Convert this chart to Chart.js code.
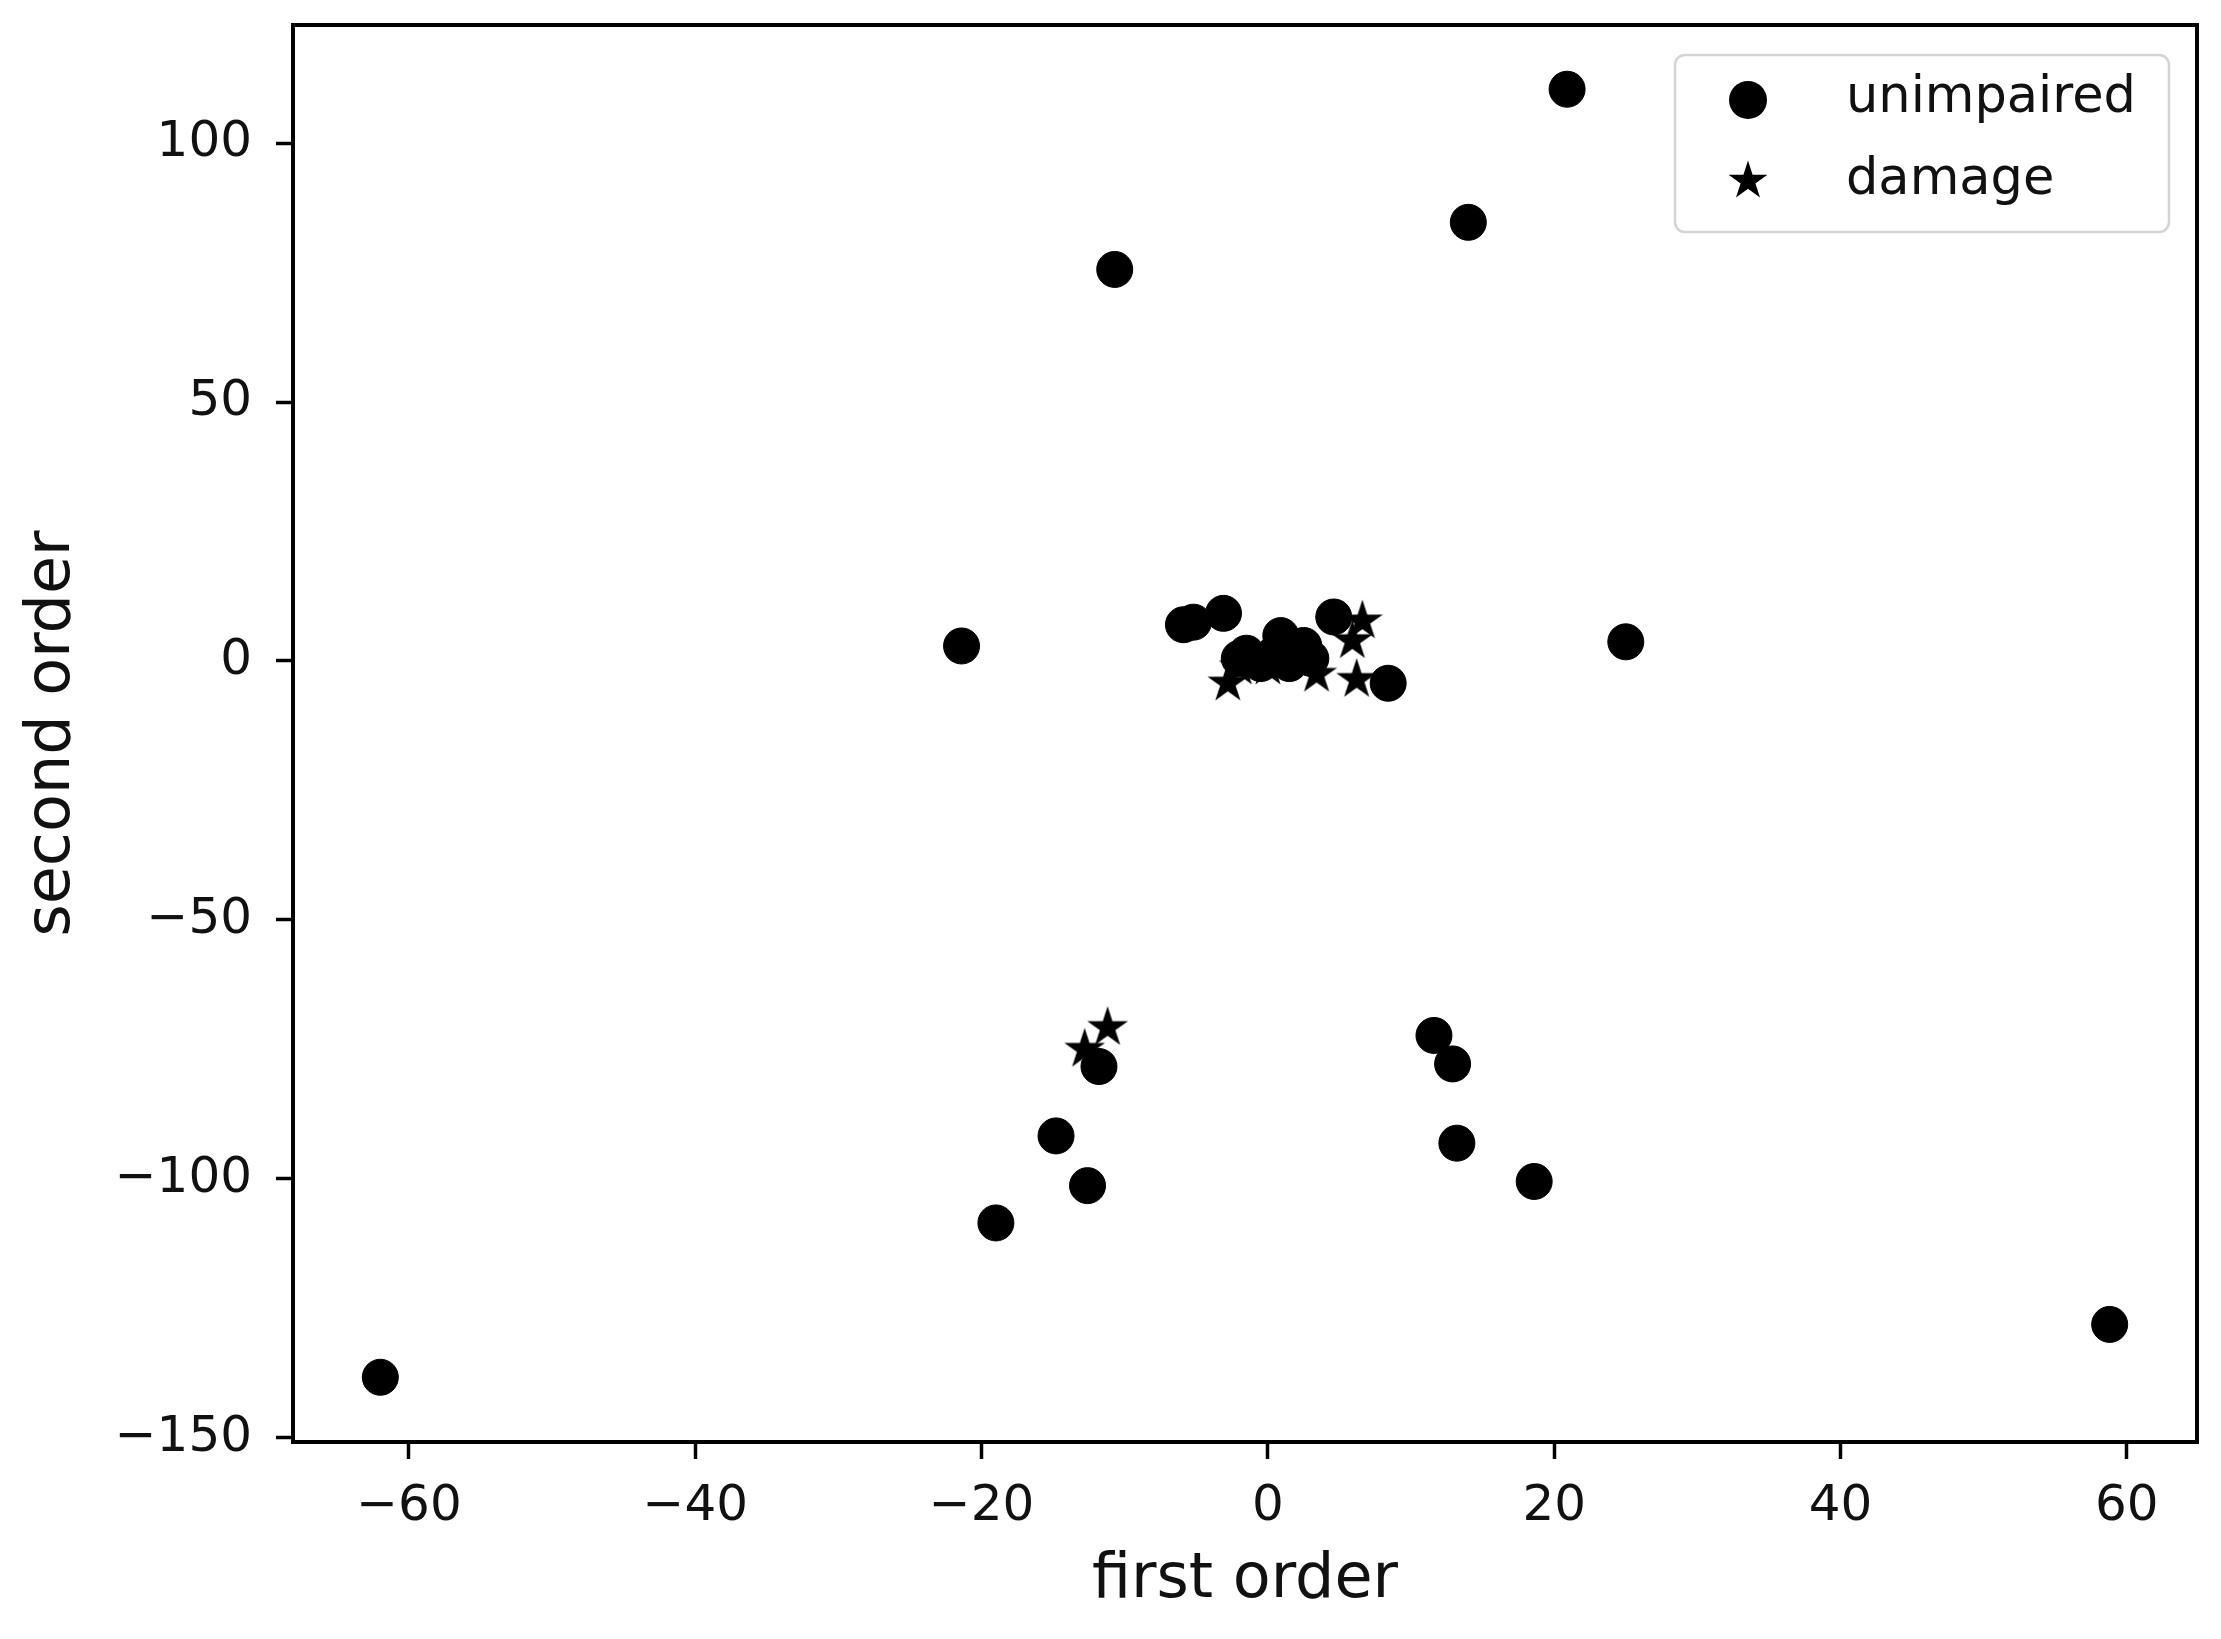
<!DOCTYPE html>
<html>
<head>
<meta charset="utf-8">
<script src="https://cdn.jsdelivr.net/npm/chart.js@4/dist/chart.umd.min.js"></script>
<style>
  html, body { margin: 0; padding: 0; background: #fff; }
  #wrap { width: 2221px; height: 1639px; }
</style>
</head>
<body>
<div id="wrap"><canvas id="chart" width="2221" height="1639"></canvas></div>
<script>
// data
const unimpairedX = [20.9, 14.0, -10.7, -21.4, 25.0, 8.4, 58.8, -62.0, -19.0, -14.8, -12.6, -11.8, 11.6, 12.9, 13.2, 18.6,
                     -5.9, -5.2, -3.1, 4.6, 0.9, -1.5, 2.5, -0.5, 1.5, 3.0, 0.5, -2.0];
const unimpairedY = [110.4, 84.7, 75.6, 2.9, 3.7, -4.3, -128.1, -138.3, -108.5, -91.7, -101.3, -78.3, -72.3, -77.8, -93.1, -100.5,
                     7.0, 7.5, 9.2, 8.5, 4.9, 1.5, 3.0, -0.5, -0.5, 0.5, 1.5, 0.5];
const damageX = [-11.2, -12.8, -2.8, 3.4, 6.6, 5.9, 6.2, -1.0, 1.0, 2.0, 0.0, -2.0];
const damageY = [-70.6, -74.8, -4.1, -2.4, 7.9, 4.1, -3.4, 1.0, 0.0, 2.0, -1.0, -1.0];

const xTicks = [-60, -40, -20, 0, 20, 40, 60];
const yTicks = [-150, -100, -50, 0, 50, 100];

const seriesNames = ["unimpaired", "damage"];

function toPoints(xs, ys) {
    return xs.map((x, i) => ({ x: x, y: ys[i] }));
}

// filled five point star like the matplotlib '*' marker
function drawStar(ctx, cx, cy, r) {
    const inner = r * 0.382;
    ctx.beginPath();
    for (let k = 0; k < 10; k++) {
        const rad = k % 2 === 0 ? r : inner;
        const a = -Math.PI / 2 + k * Math.PI / 5;
        const px = cx + rad * Math.cos(a);
        const py = cy + rad * Math.sin(a);
        if (k === 0) ctx.moveTo(px, py); else ctx.lineTo(px, py);
    }
    ctx.closePath();
    ctx.fillStyle = "#000";
    ctx.fill();
    ctx.lineWidth = 1.5;
    ctx.strokeStyle = "#000";
    ctx.stroke();
}

const starImg = document.createElement("canvas");
starImg.width = 42;
starImg.height = 42;
drawStar(starImg.getContext("2d"), 21, 22, 19);

const FONT = "'DejaVu Sans', sans-serif";

const framePlugin = {
    id: "frame",
    afterDraw(chart) {
        const { ctx, chartArea: a } = chart;
        ctx.save();
        ctx.strokeStyle = "#000";
        ctx.lineWidth = 4;
        ctx.strokeRect(a.left, a.top, a.right - a.left, a.bottom - a.top);

        // legend box, upper right like matplotlib
        const bx = a.right - 522, by = a.top + 30, bw = 494, bh = 177;
        const r = 10;
        ctx.beginPath();
        ctx.moveTo(bx + r, by);
        ctx.arcTo(bx + bw, by, bx + bw, by + bh, r);
        ctx.arcTo(bx + bw, by + bh, bx, by + bh, r);
        ctx.arcTo(bx, by + bh, bx, by, r);
        ctx.arcTo(bx, by, bx + bw, by, r);
        ctx.closePath();
        ctx.fillStyle = "rgba(255,255,255,0.8)";
        ctx.fill();
        ctx.strokeStyle = "#d4d4d4";
        ctx.lineWidth = 2.5;
        ctx.stroke();

        ctx.fillStyle = "#000";
        ctx.beginPath();
        ctx.arc(bx + 73, by + 45, 19, 0, Math.PI * 2);
        ctx.fill();
        drawStar(ctx, bx + 73, by + 126, 18);

        ctx.font = "51px " + FONT;
        ctx.textBaseline = "alphabetic";
        ctx.textAlign = "left";
        ctx.fillStyle = "#111";
        ctx.fillText(seriesNames[0], bx + 171, by + 57);
        ctx.fillText(seriesNames[1], bx + 171, by + 139);
        ctx.restore();
    }
};

function minusSign(v) {
    return String(v).replace("-", "\u2212");
}

const ctx = document.getElementById("chart");
new Chart(ctx, {
    type: "scatter",
    data: {
        datasets: [
            {
                label: seriesNames[0],
                data: toPoints(unimpairedX, unimpairedY),
                pointStyle: "circle",
                pointRadius: 18,
                pointBorderWidth: 1,
                backgroundColor: "#000",
                borderColor: "#000"
            },
            {
                label: seriesNames[1],
                data: toPoints(damageX, damageY),
                pointStyle: starImg,
                pointRadius: 18,
                backgroundColor: "#000",
                borderColor: "#000"
            }
        ]
    },
    options: {
        responsive: false,
        animation: false,
        events: [],
        layout: { padding: { left: 0, top: 25, right: 24, bottom: 0 } },
        plugins: {
            legend: { display: false },
            tooltip: { enabled: false }
        },
        scales: {
            x: {
                type: "linear",
                min: -68.1,
                max: 64.9,
                afterBuildTicks: s => { s.ticks = xTicks.map(v => ({ value: v })); },
                afterFit: s => { s.height = 197; s.paddingLeft = 0; s.paddingRight = 0; },
                border: { display: false },
                grid: { drawOnChartArea: false, drawTicks: true, tickLength: 17, tickWidth: 3.5, tickColor: "#000" },
                ticks: {
                    color: "#111",
                    padding: 18,
                    maxRotation: 0,
                    font: { family: FONT, size: 50 },
                    callback: v => minusSign(v)
                },
                title: {
                    display: true,
                    text: "first order",
                    color: "#111",
                    font: { family: FONT, size: 62 },
                    padding: { top: 0, bottom: 21 }
                }
            },
            y: {
                type: "linear",
                min: -150.8,
                max: 122.8,
                afterBuildTicks: s => { s.ticks = yTicks.map(v => ({ value: v })); },
                afterFit: s => { s.width = 293; s.paddingTop = 0; s.paddingBottom = 0; },
                border: { display: false },
                grid: { drawOnChartArea: false, drawTicks: true, tickLength: 17, tickWidth: 3.5, tickColor: "#000" },
                ticks: {
                    color: "#111",
                    padding: 24,
                    font: { family: FONT, size: 50 },
                    callback: v => minusSign(v)
                },
                title: {
                    display: true,
                    text: "second order",
                    color: "#111",
                    font: { family: FONT, size: 62 },
                    padding: { top: 16, bottom: 0 }
                }
            }
        }
    },
    plugins: [framePlugin]
});
</script>
</body>
</html>
